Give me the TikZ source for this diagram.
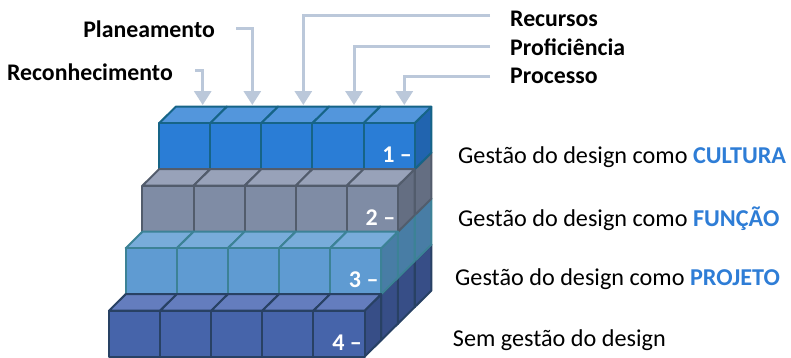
\documentclass[tikz,border=0pt]{standalone}
\usepackage{fontspec}
\setmainfont{Carlito}
\usetikzlibrary{arrows.meta}
\definecolor{front3}{RGB}{42,125,214}
\definecolor{top3}{RGB}{83,150,220}
\definecolor{side3}{RGB}{33,100,175}
\definecolor{edge3}{RGB}{22,100,135}
\definecolor{front2}{RGB}{127,140,165}
\definecolor{top2}{RGB}{152,162,185}
\definecolor{side2}{RGB}{100,110,130}
\definecolor{edge2}{RGB}{82,92,108}
\definecolor{front1}{RGB}{95,155,210}
\definecolor{top1}{RGB}{120,172,218}
\definecolor{side1}{RGB}{72,125,165}
\definecolor{edge1}{RGB}{60,130,150}
\definecolor{front0}{RGB}{70,100,170}
\definecolor{top0}{RGB}{100,125,190}
\definecolor{side0}{RGB}{55,78,135}
\definecolor{edge0}{RGB}{40,65,100}
\definecolor{arrowc}{RGB}{187,200,218}
\definecolor{accent}{RGB}{46,125,214}
\tikzset{
  face/.style={line width=2pt, line join=round},
  arr/.style={draw=arrowc, line width=3pt, -{Triangle[width=17pt,length=14pt]}},
  toplbl/.style={font=\fontsize{23.8}{28}\selectfont\bfseries, inner sep=0pt},
  sidelbl/.style={font=\fontsize{24.2}{28}\selectfont, inner sep=0pt, anchor=base west},
  numlbl/.style={font=\fontsize{24}{28}\selectfont\bfseries, text=white, inner sep=0pt, anchor=base east}
}
\newcommand{\cubeAt}[3]{%
  \filldraw[face, fill=side#2, draw=edge#2] (#1+1,#2,#3) -- (#1+1,#2,#3+1) -- (#1+1,#2+1,#3+1) -- (#1+1,#2+1,#3) -- cycle;
  \filldraw[face, fill=top#2, draw=edge#2] (#1,#2+1,#3) -- (#1+1,#2+1,#3) -- (#1+1,#2+1,#3+1) -- (#1,#2+1,#3+1) -- cycle;
  \filldraw[face, fill=front#2, draw=edge#2] (#1,#2,#3) -- (#1+1,#2,#3) -- (#1+1,#2+1,#3) -- (#1,#2+1,#3) -- cycle;
}
\begin{document}
\begin{tikzpicture}[x=1pt, y=-1pt]
\useasboundingbox (0,0) rectangle (791,357);
\begin{scope}[shift={(109pt,-356.7pt)}, x={(51.1pt,0pt)}, y={(0pt,46pt)}, z={(16.7pt,16.5pt)}]
  \foreach \z in {3,2,1,0} {
    \foreach \y in {0,...,\z} {
      \foreach \x in {0,...,4} {
        \cubeAt{\x}{\y}{\z}
      }
    }
  }
  \node[numlbl] (n1) at (5,3.14,3) [xshift=-2.5pt] {1 –};
  \node[numlbl] (n2) at (5,2.14,2) [xshift=-2.5pt] {2 –};
  \node[numlbl] (n3) at (5,1.14,1) [xshift=-2.5pt] {3 –};
  \node[numlbl] (n4) at (5,0.14,0) [xshift=-2.5pt] {4 –};
\end{scope}
% top labels
\node[toplbl, anchor=base east] (plan) at (215,37.3) {Planeamento};
\node[toplbl, anchor=base east] (recon) at (173,80) {Reconhecimento};
\node[toplbl, anchor=base west] (recur) at (510,26) {Recursos};
\node[toplbl, anchor=base west] (prof) at (510,55) {Proficiência};
\node[toplbl, anchor=base west] (proc) at (510,83.3) {Processo};
% arrows
\coordinate (reconS) at (195,70);
\coordinate (reconT) at (202.7,105);
\coordinate (planS) at (236,28.3);
\coordinate (planT) at (252.3,105);
\coordinate (recurS) at (490,15);
\coordinate (recurT) at (303.3,105);
\coordinate (profS) at (490,46.7);
\coordinate (profT) at (354,105);
\coordinate (procS) at (490,76);
\coordinate (procT) at (404.3,105);
\draw[arr] (reconS) -| (reconT);
\draw[arr] (planS) -| (planT);
\draw[arr] (recurS) -| (recurT);
\draw[arr] (profS) -| (profT);
\draw[arr] (procS) -| (procT);
% side labels
\node[sidelbl] (l1) at (458,163.3) {Gestão do design como \textcolor{accent}{\bfseries CULTURA}};
\node[sidelbl] (l2) at (458,226.7) {Gestão do design como \textcolor{accent}{\bfseries FUNÇÃO}};
\node[sidelbl] (l3) at (455,285) {Gestão do design como \textcolor{accent}{\bfseries PROJETO}};
\node[sidelbl] (l4) at (452.7,346.7) {Sem gestão do design};
\end{tikzpicture}
\end{document}
